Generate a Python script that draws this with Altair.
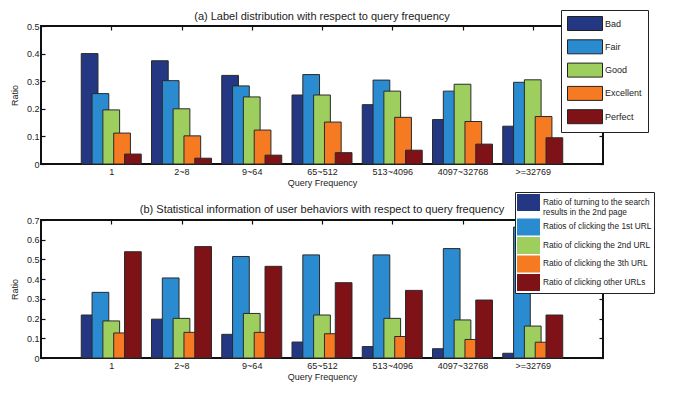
import altair as alt
import pandas as pd

categories = ["1", "2~8", "9~64", "65~512", "513~4096", "4097~32768", ">=32769"]

labels_a = ["Bad", "Fair", "Good", "Excellent", "Perfect"]
bad = [0.400, 0.374, 0.321, 0.250, 0.215, 0.161, 0.137]
fair = [0.255, 0.302, 0.283, 0.324, 0.304, 0.264, 0.296]
good = [0.196, 0.200, 0.243, 0.250, 0.264, 0.289, 0.305]
excellent = [0.112, 0.102, 0.123, 0.152, 0.169, 0.154, 0.172]
perfect = [0.036, 0.021, 0.032, 0.041, 0.050, 0.072, 0.095]

labels_b = [
    "Ratio of turning to the search results in the 2nd page",
    "Ratios of clicking the 1st URL",
    "Ratio of clicking the 2nd URL",
    "Ratio of clicking the 3th URL",
    "Ratio of clicking other URLs",
]
turn_page = [0.218, 0.197, 0.120, 0.081, 0.058, 0.047, 0.024]
click_1st = [0.333, 0.406, 0.515, 0.523, 0.523, 0.555, 0.664]
click_2nd = [0.188, 0.201, 0.226, 0.218, 0.201, 0.193, 0.162]
click_3rd = [0.127, 0.130, 0.130, 0.123, 0.109, 0.094, 0.080]
click_other = [0.539, 0.565, 0.465, 0.382, 0.343, 0.294, 0.218]

colors = ["#243782", "#2a8bd0", "#9ecf5e", "#f57a22", "#7e1217"]

FONT = "Liberation Sans"
STEP = 0.154
HALF = 0.119
TXT = "#222222"
W, H = 562, 138


def make_df(names, series):
    rows = []
    for ci, cat in enumerate(categories):
        for si, name in enumerate(names):
            rows.append({"cat": cat, "ci": ci + 1, "si": si, "series": name,
                         "value": series[si][ci]})
    return pd.DataFrame(rows)


label_expr = ("datum.value >= 1 && datum.value <= 7 ? "
              "['1','2~8','9~64','65~512','513~4096','4097~32768','>=32769'][datum.value - 1] : ''")


def panel(df, names, ymax, title, title_offset, legend_cfg):
    base = alt.Chart(df).transform_calculate(
        xc=f"datum.ci + (datum.si - 2) * {STEP}"
    ).transform_calculate(
        x1=f"datum.xc - {HALF}", x2=f"datum.xc + {HALF}"
    )
    xscale = alt.Scale(domain=[0, 8], nice=False, zero=False)
    yscale = alt.Scale(domain=[0, ymax], nice=False)
    yvals = [i / 10 for i in range(int(round(ymax * 10)) + 1)]
    frame = alt.Chart(df).mark_rect(fill="white", fillOpacity=0, stroke="#111111",
                                    strokeWidth=1.5, strokeOpacity=1).encode(
        x=alt.X(datum=0, scale=xscale,
                axis=alt.Axis(orient="top", values=list(range(1, 8)), labels=False,
                              tickSize=4, offset=-4, domain=False, grid=False,
                              tickColor="#111111", tickWidth=1.2, title=None)),
        x2=alt.X2(datum=8),
        y=alt.Y(datum=0, scale=yscale,
                axis=alt.Axis(orient="right", values=yvals,
                              labels=False, tickSize=4, offset=-4, domain=False,
                              grid=False, tickColor="#111111", tickWidth=1.2,
                              title=None)),
        y2=alt.Y2(datum=ymax),
    )
    bars = base.mark_bar(stroke="#2a2a2a", strokeWidth=1).encode(
        x=alt.X("x1:Q", scale=xscale,
                axis=alt.Axis(values=list(range(1, 8)), labelExpr=label_expr,
                              ticks=False, domain=False, grid=False,
                              title="Query Frequency", labelPadding=3,
                              titlePadding=2, labelFont=FONT, titleFont=FONT,
                              labelFontSize=9, titleFontSize=9,
                              labelColor=TXT, titleColor=TXT,
                              titleFontWeight="normal")),
        x2="x2:Q",
        y=alt.Y("value:Q", scale=yscale,
                axis=alt.Axis(values=yvals,
                              labelExpr="datum.value == 0 ? '0' : format(datum.value, '.1f')",
                              tickSize=4, offset=-4, domain=False, grid=False,
                              tickColor="#111111", tickWidth=1.2, labelPadding=2,
                              title="Ratio", titlePadding=7, labelFont=FONT,
                              titleFont=FONT, labelFontSize=9, titleFontSize=9,
                              labelColor=TXT, titleColor=TXT,
                              titleFontWeight="normal")),
        y2=alt.Y2(datum=0),
        color=alt.Color("series:N", scale=alt.Scale(domain=names, range=colors),
                        sort=names, legend=alt.Legend(**legend_cfg)),
        order=alt.Order("si:Q"),
    )
    return alt.layer(frame, bars).resolve_axis(x="independent", y="independent").properties(
        width=W, height=H,
        title=alt.TitleParams(title, font=FONT, fontSize=11, fontWeight="normal",
                              color=TXT, anchor="middle", offset=title_offset),
    )


legend_a = dict(
    orient="none", legendX=520, legendY=-16, title=None,
    symbolType="M-1,-1H4V1H-1Z", symbolSize=196,
    symbolStrokeColor=TXT, symbolStrokeWidth=1, symbolOpacity=1,
    labelFont=FONT, labelFontSize=9, labelColor=TXT, labelOffset=23,
    labelExpr="datum.label == 'Excellent' ? 'Excellent" + "\u00a0" * 11 + "' : datum.label",
    rowPadding=4.3, padding=6, strokeColor=TXT, fillColor="white",
    labelLimit=300, zindex=2,
)

legend_b = dict(
    orient="none", legendX=474, legendY=-28, title=None,
    symbolType="M-1,-1H1.706V1H-1Z", symbolSize=289,
    symbolStrokeWidth=0, symbolOpacity=1,
    labelFont=FONT, labelFontSize=8.3, labelColor=TXT, labelOffset=9,
    labelExpr="datum.label == 'Ratio of turning to the search results in the 2nd page' ? "
              "['Ratio of turning to the search', 'results in the 2nd page'] : datum.label",
    rowPadding=1.5, padding=2, strokeColor=TXT, fillColor="white",
    labelLimit=300, zindex=2,
)

top = panel(make_df(labels_a, [bad, fair, good, excellent, perfect]), labels_a, 0.5,
            "(a)  Label distribution with respect to query frequency", -12.5, legend_a)
bottom = panel(make_df(labels_b, [turn_page, click_1st, click_2nd, click_3rd, click_other]),
               labels_b, 0.7,
               "(b) Statistical information of user behaviors with respect to query frequency",
               -23.5, legend_b)

chart = alt.vconcat(top, bottom, spacing=2).resolve_scale(color="independent").configure(
    padding={"left": 1, "top": 0, "right": 0, "bottom": 0}, background="white"
).configure_view(stroke="#111111", strokeWidth=1.5)

chart.save("out.html", embed_options={"renderer": "svg", "actions": False})
